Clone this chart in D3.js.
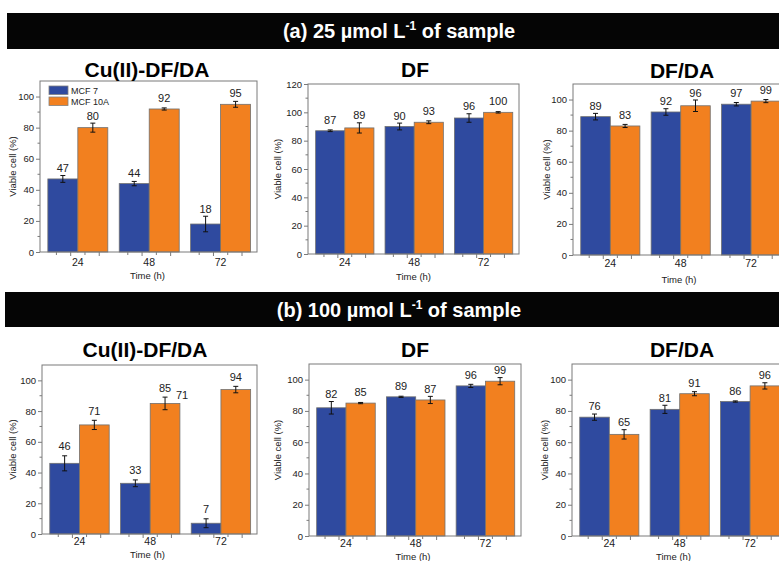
<!DOCTYPE html>
<html>
<head>
<meta charset="utf-8">
<script src="https://cdn.jsdelivr.net/npm/d3@7/dist/d3.min.js"></script>
<style>
  html, body { margin: 0; padding: 0; background: #fff; }
  svg { display: block; font-family: "Liberation Sans", Arial, sans-serif; }
</style>
</head>
<body>
<svg id="chart" width="779" height="561"></svg>
<script>
// ---------------- DATA ----------------
const times = ["24", "48", "72"];
const seriesNames = ["MCF 7", "MCF 10A"];
const panelTitles = ["Cu(II)-DF/DA", "DF", "DF/DA"];
const bannerA = ["(a) 25 µmol L", "-1", " of sample"];
const bannerB = ["(b) 100 µmol L", "-1", " of sample"];
const yTicks110 = [0, 20, 40, 60, 80, 100];
const yTicks120 = [0, 20, 40, 60, 80, 100, 120];

// (a) 25 µmol/L
const a_cu_mcf7 = [47, 44, 18];
const a_cu_mcf10a = [80, 92, 95];
const a_cu_err7 = [2.2, 1.4, 5];
const a_cu_err10a = [2.9, 0.7, 1.9];

const a_df_mcf7 = [87, 90, 96];
const a_df_mcf10a = [89, 93, 100];
const a_df_err7 = [0.6, 2.4, 3];
const a_df_err10a = [3.6, 1, 0.5];

const a_dfda_mcf7 = [89, 92, 97];
const a_dfda_mcf10a = [83, 96, 99];
const a_dfda_err7 = [2.1, 2.1, 1.1];
const a_dfda_err10a = [1, 3.7, 1];

// (b) 100 µmol/L
const b_cu_mcf7 = [46, 33, 7];
const b_cu_mcf10a = [71, 85, 94];
const b_cu_err7 = [4.9, 2.2, 2.9];
const b_cu_err10a = [3, 4.1, 2.1];

const b_df_mcf7 = [82, 89, 96];
const b_df_mcf10a = [85, 87, 99];
const b_df_err7 = [4, 0.4, 1];
const b_df_err10a = [0.4, 2.3, 2.3];

const b_dfda_mcf7 = [76, 81, 86];
const b_dfda_mcf10a = [65, 91, 96];
const b_dfda_err7 = [2, 2.6, 0.4];
const b_dfda_err10a = [3, 1.3, 2];

// stray label present in the original (panel b, Cu(II)-DF/DA, 48 h)
const strayLabel = "71";

// ---------------- STYLE ----------------
const BLUE = "#2f4a9f";
const ORANGE = "#f2801f";
const FRAME = "#7a7a7a";
const TEXT = "#222";

const svg = d3.select("#chart");

function banner(y0, y1, x0, parts, baseline) {
  svg.append("rect").attr("x", x0).attr("y", y0).attr("width", 779 - x0).attr("height", y1 - y0).attr("fill", "#050505");
  const t = svg.append("text").attr("x", 399).attr("y", baseline).attr("text-anchor", "middle")
    .attr("fill", "#fff").attr("font-size", 20).attr("font-weight", "bold");
  t.append("tspan").text(parts[0]);
  t.append("tspan").attr("font-size", 12).attr("dy", -8).text(parts[1]);
  t.append("tspan").attr("dy", 8).text(parts[2]);
}
banner(13, 49, 7, bannerA, 38);
banner(292, 327, 5, bannerB, 317);

function panel(cfg) {
  const g = svg.append("g");
  const x = d3.scaleBand().domain(times).range([cfg.left, cfg.right])
    .paddingInner(0.16).paddingOuter(0.1).align(0.55);
  const xs = d3.scaleBand().domain(seriesNames).range([0, x.bandwidth()]);
  const y = d3.scaleLinear().domain([0, cfg.ymax]).range([cfg.bottom, cfg.top]);

  // bars
  const vals = [cfg.v7, cfg.v10];
  const errs = [cfg.e7, cfg.e10];
  const cols = [BLUE, ORANGE];
  seriesNames.forEach((s, si) => {
    g.selectAll(null).data(times).enter().append("rect")
      .attr("x", d => x(d) + xs(s))
      .attr("y", (d, i) => y(vals[si][i]))
      .attr("width", xs.bandwidth())
      .attr("height", (d, i) => y(0) - y(vals[si][i]))
      .attr("fill", cols[si]).attr("stroke", "#707070").attr("stroke-width", 0.8);
  });
  // error bars + labels
  seriesNames.forEach((s, si) => {
    times.forEach((t, i) => {
      const cx = x(t) + xs(s) + xs.bandwidth() / 2;
      const v = vals[si][i], e = errs[si][i];
      const yt = y(v + e), yb = y(v - e);
      g.append("line").attr("x1", cx).attr("x2", cx).attr("y1", yt).attr("y2", yb).attr("stroke", "#111").attr("stroke-width", 1);
      [yt, yb].forEach(yy => g.append("line").attr("x1", cx - 2.5).attr("x2", cx + 2.5).attr("y1", yy).attr("y2", yy).attr("stroke", "#111").attr("stroke-width", 1));
      const base = Math.min(y(v) - 7, yt - cfg.labelGap);
      g.append("text").attr("x", cx).attr("y", base).attr("text-anchor", "middle")
        .attr("font-size", 11).attr("fill", TEXT).text(String(v));
      if (cfg.stray && cfg.stray.time === t && cfg.stray.series === s) {
        g.append("text").attr("x", cx + 17).attr("y", base + 7).attr("text-anchor", "middle")
          .attr("font-size", 11).attr("fill", TEXT).text(cfg.stray.text);
      }
    });
  });

  // frame
  g.append("rect").attr("x", cfg.left).attr("y", cfg.top).attr("width", cfg.right - cfg.left)
    .attr("height", cfg.bottom - cfg.top).attr("fill", "none").attr("stroke", FRAME).attr("stroke-width", 1);

  // y axis ticks
  const yAxis = d3.axisLeft(y).tickValues(cfg.yticks).tickSize(4).tickPadding(2).tickFormat(d3.format("d"));
  const ya = g.append("g").attr("transform", `translate(${cfg.left},0)`).call(yAxis);
  ya.select(".domain").remove();
  ya.selectAll(".tick line").attr("stroke", FRAME);
  ya.selectAll(".tick text").attr("font-size", 9.5).attr("fill", TEXT).attr("font-family", "Liberation Sans, Arial, sans-serif");
  const minor = d3.range(10, cfg.ymax, 20);
  g.selectAll(null).data(minor).enter().append("line")
    .attr("x1", cfg.left - 2.5).attr("x2", cfg.left).attr("y1", d => y(d)).attr("y2", d => y(d)).attr("stroke", FRAME);

  // x axis
  const xAxis = d3.axisBottom(x).tickSize(0).tickPadding(cfg.xPad);
  const xa = g.append("g").attr("transform", `translate(0,${cfg.bottom})`).call(xAxis);
  xa.select(".domain").remove();
  xa.selectAll(".tick text").attr("font-size", 10.5).attr("fill", TEXT).attr("font-family", "Liberation Sans, Arial, sans-serif");
  times.forEach(t => {
    const c = x(t) + x.bandwidth() / 2;
    [-0.3, -0.1, 0.1, 0.3].forEach((f, k) => {
      const xx = c + f * x.step();
      g.append("line").attr("x1", xx).attr("x2", xx).attr("y1", cfg.bottom).attr("y2", cfg.bottom + (k % 2 ? 4 : 3)).attr("stroke", FRAME);
    });
  });

  // titles
  g.append("text").attr("x", cfg.titleX).attr("y", cfg.titleY).attr("text-anchor", "middle")
    .attr("font-size", 21).attr("font-weight", "bold").attr("fill", "#000").text(cfg.title);
  g.append("text").attr("x", (cfg.left + Math.min(cfg.right, 779)) / 2 + cfg.xlabOff).attr("y", cfg.xlabY).attr("text-anchor", "middle")
    .attr("font-size", 9.5).attr("fill", TEXT).text("Time (h)");
  g.append("text").attr("transform", `translate(${cfg.ylabX},${(cfg.top + cfg.bottom) / 2}) rotate(-90)`)
    .attr("text-anchor", "middle").attr("font-size", 9.5).attr("fill", TEXT).text("Viable cell (%)");

  if (cfg.legend) {
    seriesNames.forEach((s, si) => {
      const ly = cfg.top + 5 + si * 11;
      g.append("rect").attr("x", cfg.left + 9).attr("y", ly).attr("width", 19).attr("height", 8.5)
        .attr("fill", cols[si]).attr("stroke", "#808080").attr("stroke-width", 0.8);
      g.append("text").attr("x", cfg.left + 31).attr("y", ly + 8).attr("font-size", 9).attr("fill", TEXT).text(s);
    });
  }
}

panel({ left: 40, right: 257, top: 81, bottom: 252, ymax: 110, yticks: yTicks110, title: panelTitles[0], titleX: 147, titleY: 77,
  v7: a_cu_mcf7, v10: a_cu_mcf10a, e7: a_cu_err7, e10: a_cu_err10a, labelGap: 3.5, xPad: 7, xlabY: 279, xlabOff: -1, ylabX: 16, legend: true });
panel({ left: 308, right: 519, top: 84, bottom: 254, ymax: 120, yticks: yTicks120, title: panelTitles[1], titleX: 415, titleY: 77,
  v7: a_df_mcf7, v10: a_df_mcf10a, e7: a_df_err7, e10: a_df_err10a, labelGap: 3.5, xPad: 5, xlabY: 280, xlabOff: 0, ylabX: 281 });
panel({ left: 573, right: 787, top: 84, bottom: 255, ymax: 110, yticks: yTicks110, title: panelTitles[2], titleX: 682, titleY: 78,
  v7: a_dfda_mcf7, v10: a_dfda_mcf10a, e7: a_dfda_err7, e10: a_dfda_err10a, labelGap: 3.5, xPad: 5, xlabY: 283, xlabOff: 3, ylabX: 550 });
panel({ left: 42, right: 257, top: 365, bottom: 534, ymax: 110, yticks: yTicks110, title: panelTitles[0], titleX: 145, titleY: 357,
  v7: b_cu_mcf7, v10: b_cu_mcf10a, e7: b_cu_err7, e10: b_cu_err10a, labelGap: 5.5, xPad: 4, xlabY: 558, xlabOff: -2,
  ylabX: 16, stray: { time: "48", series: "MCF 10A", text: strayLabel } });
panel({ left: 309, right: 521, top: 364, bottom: 536, ymax: 110, yticks: yTicks110, title: panelTitles[1], titleX: 415, titleY: 357,
  v7: b_df_mcf7, v10: b_df_mcf10a, e7: b_df_err7, e10: b_df_err10a, labelGap: 3.5, xPad: 4, xlabY: 560, xlabOff: -2, ylabX: 281 });
panel({ left: 572, right: 786, top: 364, bottom: 536, ymax: 110, yticks: yTicks110, title: panelTitles[2], titleX: 682, titleY: 357,
  v7: b_dfda_mcf7, v10: b_dfda_mcf10a, e7: b_dfda_err7, e10: b_dfda_err10a, labelGap: 3.5, xPad: 4, xlabY: 560, xlabOff: -2, ylabX: 548 });
</script>
</body>
</html>
